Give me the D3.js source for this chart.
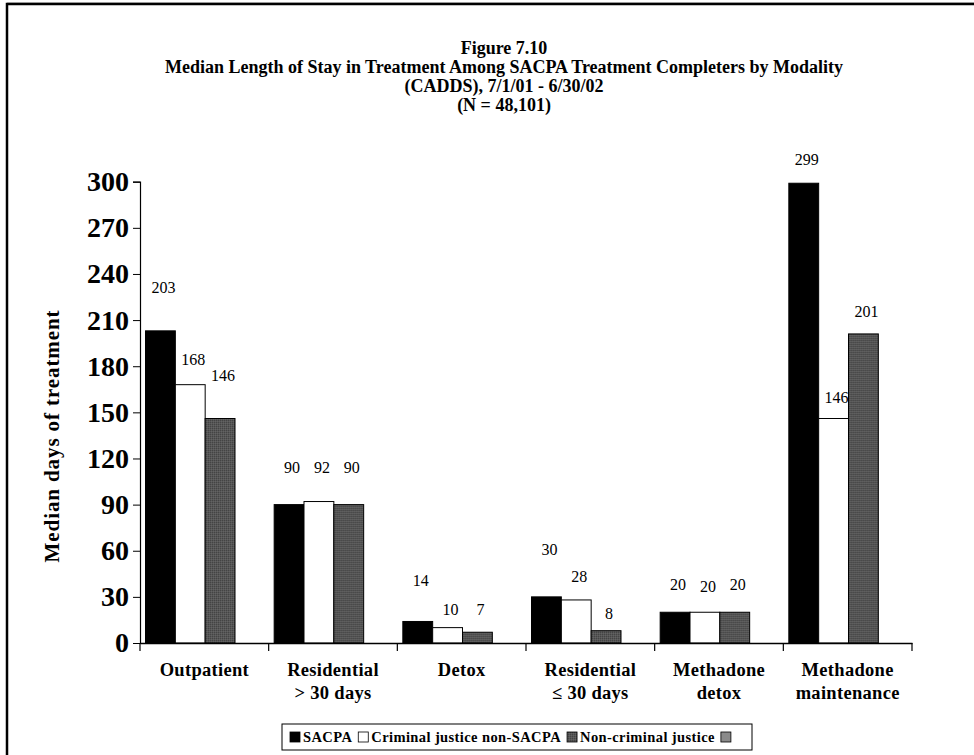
<!DOCTYPE html>
<html>
<head>
<meta charset="utf-8">
<script src="https://cdn.jsdelivr.net/npm/d3@7/dist/d3.min.js"></script>
<style>
  html, body { margin: 0; padding: 0; background: #fff; }
  svg { display: block; font-family: "Liberation Serif", "Times New Roman", serif; }
</style>
</head>
<body>
<svg id="chart" width="974" height="755"></svg>
<script>
// Modalities (x-axis categories), each split into display lines
const categories = ["Outpatient", "Residential > 30 days", "Detox", "Residential ≤ 30 days", "Methadone detox", "Methadone maintenance"];
const categoryLines = [["Outpatient"], ["Residential", "> 30 days"], ["Detox"], ["Residential", "≤ 30 days"], ["Methadone", "detox"], ["Methadone", "maintenance"]];

// Series
const series = ["SACPA", "Criminal justice non-SACPA", "Non-criminal justice"];
const sacpa = [203, 90, 14, 30, 20, 299];
const criminalJustice = [168, 92, 10, 28, 20, 146];
const nonCriminalJustice = [146, 90, 7, 8, 20, 201];
const seriesValues = [sacpa, criminalJustice, nonCriminalJustice];

// Y axis ticks
const yTicks = [0, 30, 60, 90, 120, 150, 180, 210, 240, 270, 300];

const titleLines = [
  "Figure 7.10",
  "Median Length of Stay in Treatment Among SACPA Treatment Completers by Modality",
  "(CADDS), 7/1/01 - 6/30/02",
  "(N = 48,101)"
];

// how far (px) each value label sits above its bar, per series then category
const labelLift = [
  [38, 32, 35, 42, 22, 18],
  [20, 29, 13, 18, 20, 16],
  [38, 32, 17, 12, 22, 17]
];

const fills = ["#000000", "#ffffff", "url(#grain)"];

const svg = d3.select("#chart");

// fine grainy texture for the dark grey series
const defs = svg.append("defs");
const pat = defs.append("pattern").attr("id", "grain").attr("patternUnits", "userSpaceOnUse")
  .attr("width", 2).attr("height", 2);
pat.append("rect").attr("width", 2).attr("height", 2).attr("fill", "#565656");
pat.append("rect").attr("width", 1).attr("height", 1).attr("fill", "#444444");
pat.append("rect").attr("x", 1).attr("y", 1).attr("width", 1).attr("height", 1).attr("fill", "#636363");

// outer frame
svg.append("rect").attr("x", 7).attr("y", 4).attr("width", 1000).attr("height", 800)
  .attr("fill", "none").attr("stroke", "#000").attr("stroke-width", 2.5);
svg.append("line").attr("x1", 7).attr("x2", 974).attr("y1", 2.5).attr("y2", 2.5)
  .attr("stroke", "#999").attr("stroke-width", 1);

// title
const title = svg.append("g").attr("font-weight", "bold").attr("font-size", 18).attr("text-anchor", "middle");
titleLines.forEach((t, i) => {
  title.append("text").attr("x", 504).attr("y", 54 + i * 19).text(t);
});

const x0 = d3.scaleBand().domain(categories).range([140, 912]).padding(0);
const x1 = d3.scaleBand().domain(series).range([5.5, 95]).padding(0);
const y = d3.scaleLinear().domain([0, 300]).range([643, 181.7]);

// bars
const groups = svg.append("g").selectAll("g").data(categories).join("g")
  .attr("transform", d => `translate(${x0(d)},0)`);
const cells = (c, ci) => series.map((s, si) => ({ s, si, ci, v: seriesValues[si][ci] }));
groups.selectAll("rect")
  .data(cells)
  .join("rect")
  .attr("x", d => x1(d.s))
  .attr("y", d => y(d.v))
  .attr("width", x1.bandwidth())
  .attr("height", d => y(0) - y(d.v))
  .attr("fill", d => fills[d.si])
  .attr("stroke", "#000").attr("stroke-width", 1);

// value labels
groups.selectAll("text.val")
  .data(cells)
  .join("text").attr("class", "val")
  .attr("x", d => x1(d.s) + x1.bandwidth() / 2 + 3)
  .attr("y", d => y(d.v) - labelLift[d.si][d.ci])
  .attr("text-anchor", "middle").attr("font-size", 16)
  .text(d => d.v);

// y axis
const yAxis = svg.append("g").attr("transform", "translate(140,0)")
  .call(d3.axisLeft(y).tickValues(yTicks).tickSize(7).tickPadding(4));
yAxis.select(".domain").attr("stroke", "#000").attr("stroke-width", 1.2);
yAxis.selectAll(".tick line").attr("stroke", "#000");
yAxis.selectAll(".tick text").attr("font-family", "Liberation Serif, serif")
  .attr("font-size", 28).attr("font-weight", "bold").attr("fill", "#000");

// x axis
const xAxis = svg.append("g").attr("transform", "translate(0,643)")
  .call(d3.axisBottom(x0).tickValues([]).tickSizeOuter(0));
xAxis.select(".domain").attr("stroke", "#000").attr("stroke-width", 1.5);
const bounds = categories.map(c => x0(c)).concat([x0.range()[1]]);
xAxis.selectAll("line.sep").data(bounds).join("line").attr("class", "sep")
  .attr("x1", d => d).attr("x2", d => d).attr("y1", 0).attr("y2", 8)
  .attr("stroke", "#000").attr("stroke-width", 1.2);

// category labels
const catLabels = svg.append("g").attr("font-weight", "bold").attr("font-size", 18.5)
  .attr("letter-spacing", 0.3).attr("text-anchor", "middle");
categories.forEach((c, i) => {
  categoryLines[i].forEach((line, j) => {
    catLabels.append("text").attr("x", x0(c) + x0.bandwidth() / 2).attr("y", 676 + j * 23).text(line);
  });
});

// y axis title
svg.append("text").attr("transform", "translate(59,436) rotate(-90)")
  .attr("text-anchor", "middle").attr("font-weight", "bold").attr("font-size", 21)
  .attr("letter-spacing", 0.9)
  .text("Median days of treatment");

// legend
const legend = svg.append("g");
legend.append("rect").attr("x", 282).attr("y", 724).attr("width", 470).attr("height", 26)
  .attr("fill", "#fff").attr("stroke", "#000").attr("stroke-width", 1);
const legendItems = series.concat([""]);
const legendFills = fills.concat(["#8a8a8a"]);
let lx = 290;
legendItems.forEach((s, i) => {
  legend.append("rect").attr("x", lx).attr("y", 732).attr("width", 10).attr("height", 10)
    .attr("fill", legendFills[i]).attr("stroke", "#000").attr("stroke-width", 0.8);
  const t = legend.append("text").attr("x", lx + 13).attr("y", 742)
    .attr("font-weight", "bold").attr("font-size", 14.5).attr("letter-spacing", 0.4).text(s);
  lx += 13 + (s ? t.node().getComputedTextLength() : 0) + 6;
});
</script>
</body>
</html>
